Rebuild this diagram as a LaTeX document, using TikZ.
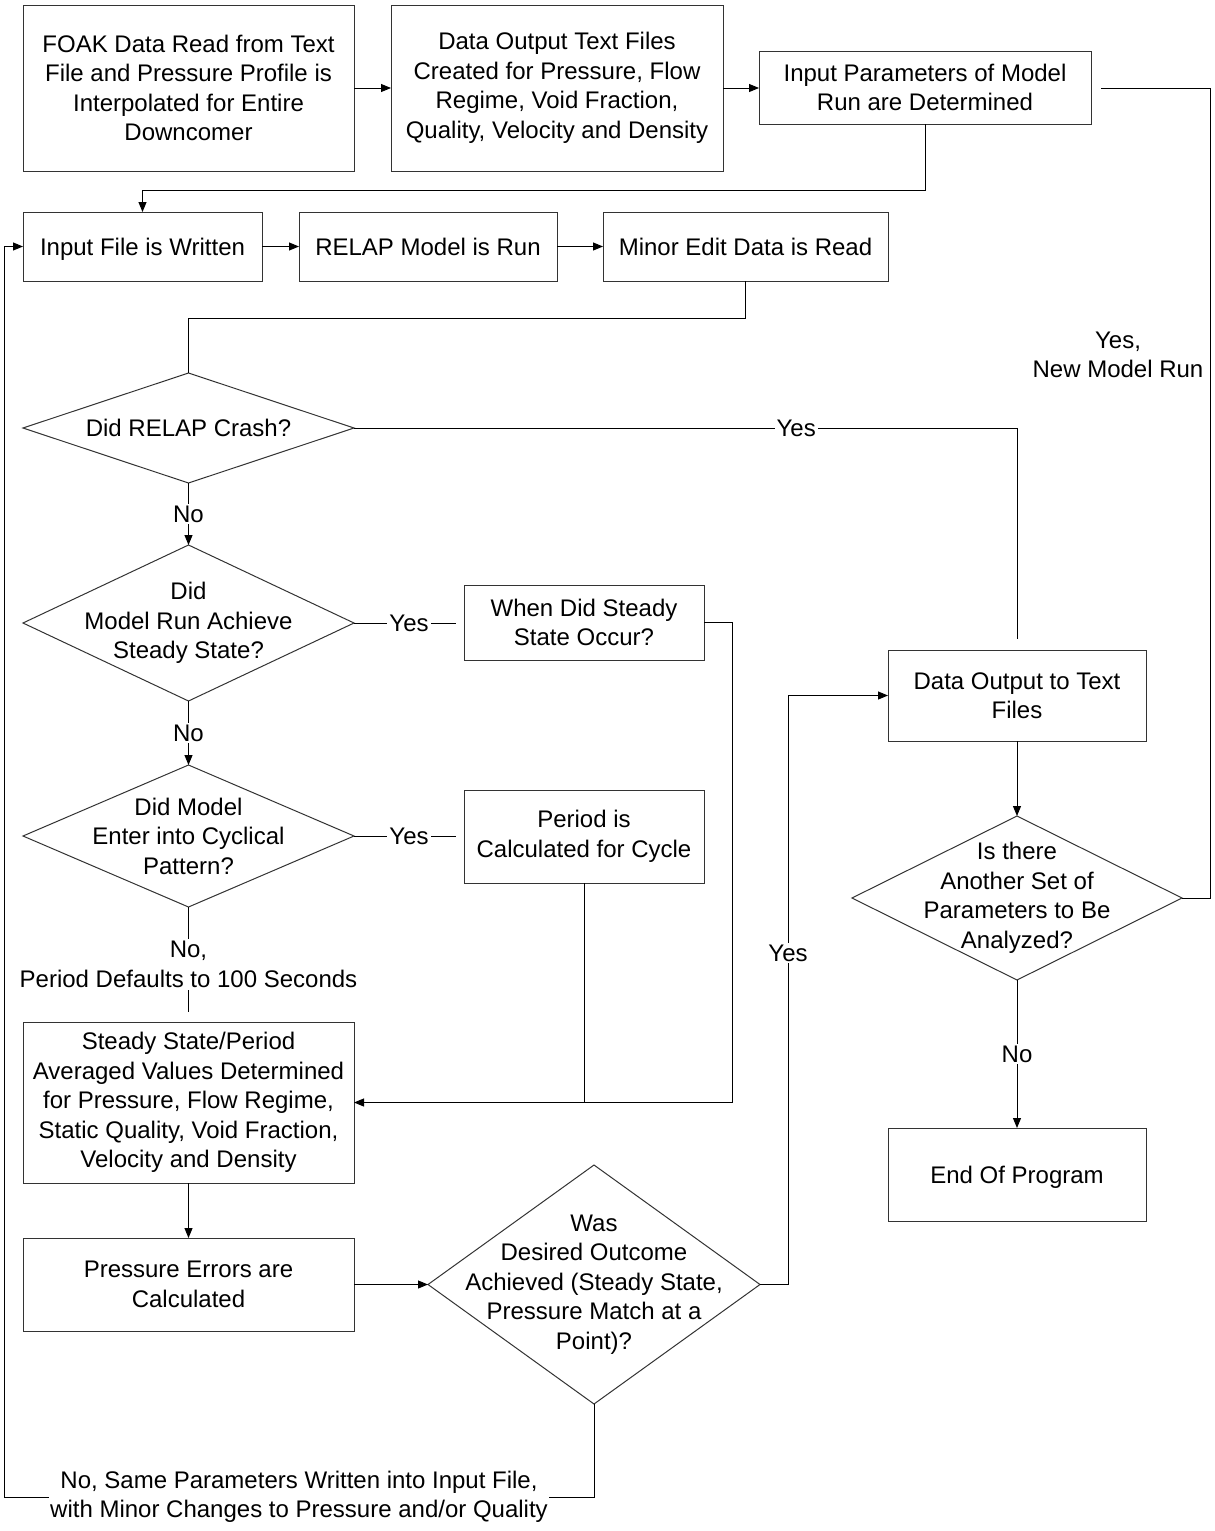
\documentclass[tikz,border=0pt]{standalone}
\usepackage{fontspec}
\setmainfont{Liberation Sans}
\usetikzlibrary{shapes.geometric,arrows.meta}
\newcommand\diafont{\fontsize{24}{29.5}\selectfont}
\begin{document}
\begin{tikzpicture}[x=1pt,y=-1pt,
  box/.style={draw=black!80, line width=1pt, inner sep=0pt, outer sep=0pt, align=center, font=\diafont},
  onebox/.style={box, text height=17pt, text depth=0pt},
  dia/.style={draw=black!80, line width=1pt, diamond, inner sep=0pt, outer sep=0pt},
  txt/.style={align=center, font=\diafont, inner sep=0pt},
  lab/.style={fill=white, font=\diafont, inner sep=2pt, align=center},
  conn/.style={line width=1pt, draw=black},
  arr/.style={conn, -{Triangle[length=10pt,width=8pt]}}]
\useasboundingbox (0,0) rectangle (1215,1531);
\fill[white] (0,0) rectangle (1215,1531);

% boxes
\node[box, minimum width=331pt, minimum height=166pt] (foak) at (188.5,88) {FOAK Data Read from Text\\File and Pressure Profile is\\Interpolated for Entire\\Downcomer};
\node[box, minimum width=332pt, minimum height=166pt] (dout) at (557,88) {Data Output Text Files\\Created for Pressure, Flow\\Regime, Void Fraction,\\Quality, Velocity and Density};
\node[box, minimum width=332pt, minimum height=73pt] (inpar) at (925,87.5) {Input Parameters of Model\\Run are Determined};
\node[onebox, minimum width=239pt, minimum height=69pt] (infile) at (142.5,246.5) {Input File is Written};
\node[onebox, minimum width=258pt, minimum height=69pt] (relap) at (428,246.5) {RELAP Model is Run};
\node[onebox, minimum width=285pt, minimum height=69pt] (minor) at (745.5,246.5) {Minor Edit Data is Read};
\node[box, minimum width=240pt, minimum height=75pt] (when) at (584,622.5) {When Did Steady\\State Occur?};
\node[box, minimum width=240pt, minimum height=93pt] (period) at (584,836.5) {Period is\\Calculated for Cycle};
\node[box, minimum width=331pt, minimum height=161pt] (steady) at (188.5,1102.5) {Steady State/Period\\Averaged Values Determined\\for Pressure, Flow Regime,\\Static Quality, Void Fraction,\\Velocity and Density};
\node[box, minimum width=331pt, minimum height=93pt] (press) at (188.5,1284.5) {Pressure Errors are\\Calculated};
\node[box, minimum width=258pt, minimum height=91pt] (dtext) at (1017,695.5) {Data Output to Text\\Files};
\node[onebox, minimum width=258pt, minimum height=93pt] (endp) at (1017,1174.5) {End Of Program};

% diamonds
\node[dia, minimum width=331pt, minimum height=110pt] (crash) at (188.5,428) {};
\node[txt, text height=17pt, text depth=0pt] (crasht) at (crash) {Did RELAP Crash?};
\node[dia, minimum width=331pt, minimum height=156pt] (ss) at (188.5,623) {};
\node[txt] (sst) at (ss) {Did\\Model Run Achieve\\Steady State?};
\node[dia, minimum width=331pt, minimum height=142pt] (cyc) at (188.5,836) {};
\node[txt] (cyct) at (cyc) {Did Model\\Enter into Cyclical\\Pattern?};
\node[dia, minimum width=332pt, minimum height=239pt] (was) at (594,1284.5) {};
\node[txt] (wast) at (was) {Was\\Desired Outcome\\Achieved (Steady State,\\Pressure Match at a\\Point)?};
\node[dia, minimum width=330pt, minimum height=164pt] (another) at (1017,898) {};
\node[txt] (anothert) at (another) {Is there\\Another Set of\\Parameters to Be\\Analyzed?};

% free label
\node[txt] (newrun) at (1118,355) {Yes,\\New Model Run};

% coordinates for free ends
\coordinate (crashend) at (1017,639);
\coordinate (retend) at (1101,88);
\coordinate (loopl) at (4,1497);

% connectors
\draw[arr] (foak.east) -- (foak.east -| dout.west);
\draw[arr] (dout.east) -- (dout.east -| inpar.west);
\draw[arr] (inpar.south) -- ++(0,66) -| (infile.north);
\draw[arr] (infile) -- (relap);
\draw[arr] (relap) -- (minor);
\draw[conn] (minor.south) -- ++(0,37) -| (crash.north);
\draw[arr] (crash.south) -- node[lab]{No} (ss.north);
\draw[conn] (crash.east) -- node[lab,pos=0.667]{Yes} (crash.east -| crashend) -- (crashend);
\draw[conn, shorten >=8pt] (ss.east) -- node[lab]{Yes} (ss.east -| when.west);
\draw[arr] (ss.south) -- node[lab]{No} (cyc.north);
\draw[conn, shorten >=8pt] (cyc.east) -- node[lab]{Yes} (cyc.east -| period.west);
\draw[conn, shorten >=10pt] (cyc.south) -- node[lab]{No,\\Period Defaults to 100 Seconds} (steady.north);
\draw[arr] (when.east) -- ++(28,0) |- (steady.east);
\draw[conn] (period.south) -- (period.south |- steady.east);
\draw[arr] (steady.south) -- (press.north);
\draw[arr] (press.east) -- (was.west);
\draw[arr] (was.east) -- ++(28,0) coordinate (c1) -- node[lab,pos=0.563]{Yes} (c1 |- dtext.west) -- (dtext.west);
\draw[arr] (dtext.south) -- (another.north);
\draw[arr] (another.south) -- node[lab]{No} (endp.north);
\draw[conn] (another.east) -- ++(28,0) |- (retend);
\draw[arr] (was.south) |- node[lab,pos=0.75,inner sep=1pt]{No, Same Parameters Written into Input File,\\with Minor Changes to Pressure and/or Quality} (loopl) |- (infile.west);
\end{tikzpicture}
\end{document}
